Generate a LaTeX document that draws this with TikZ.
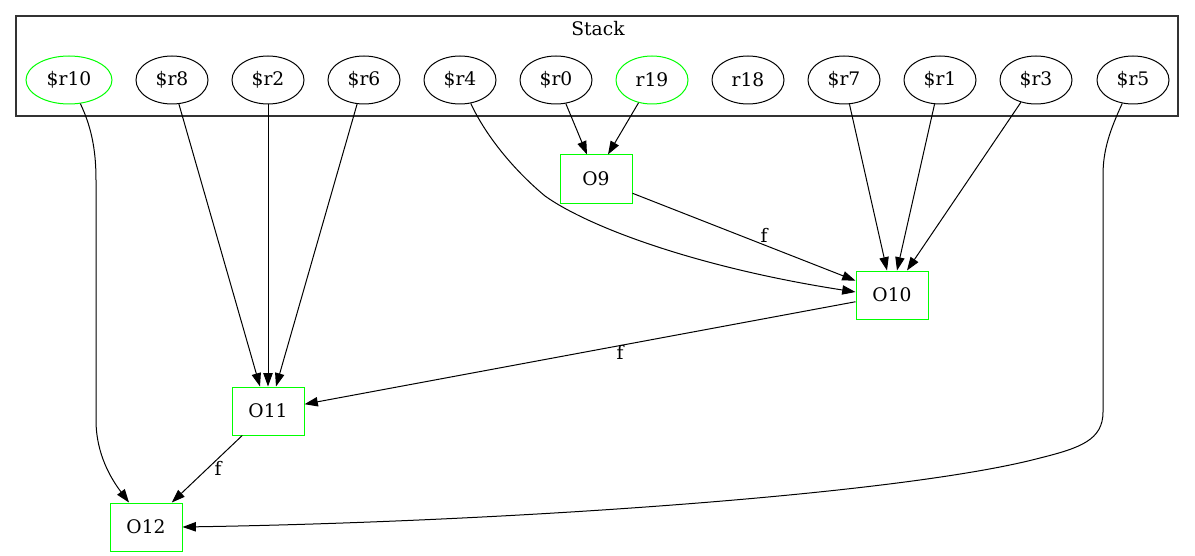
\documentclass[tikz,border=0pt]{standalone}
\usepackage{fontspec}
\setmainfont{DejaVu Serif}
\usetikzlibrary{arrows.meta,shapes.geometric,calc}
\definecolor{gvgreen}{RGB}{0,255,0}
\begin{document}
\begin{tikzpicture}[x=0.75pt,y=-0.75pt,
  font=\fontsize{14}{16}\selectfont,
  reg/.style={draw, ellipse, line width=0.75pt, minimum width=54pt,
    minimum height=36pt, inner sep=0pt},
  livereg/.style={reg, draw=gvgreen},
  op/.style={draw=gvgreen, rectangle, line width=0.75pt, minimum width=54pt,
    minimum height=36pt, inner sep=0pt},
  cluster/.style={draw=black!80, rectangle, line width=0.85pt, minimum width=871.5pt,
    minimum height=75pt, inner sep=0pt},
  edge/.style={line width=0.75pt, -{Triangle[length=10pt,width=7pt]}},
  lbl/.style={inner sep=0pt}
]
\useasboundingbox (0,0) rectangle (1195,556);

% register stack
\node[cluster] (stack) at (597,66) {};
\node[lbl] (stacklbl) at (598,29) {Stack};

\node[livereg, minimum width=64.5pt] (r10) at (69,80) {\$r10};
\node[reg] (r8)  at (172,80)  {\$r8};
\node[reg] (r2)  at (268,80)  {\$r2};
\node[reg] (r6)  at (364,80)  {\$r6};
\node[reg] (r4)  at (460,80)  {\$r4};
\node[reg] (r0)  at (556,80)  {\$r0};
\node[livereg] (r19) at (652,80) {r19};
\node[reg] (r18) at (748,80)  {r18};
\node[reg] (r7)  at (844,80)  {\$r7};
\node[reg] (r1)  at (940,80)  {\$r1};
\node[reg] (r3)  at (1036,80) {\$r3};
\node[reg] (r5)  at (1133,80) {\$r5};

% operations
\node[op] (O9)  at (596,179) {O9};
\node[op] (O10) at (892,295) {O10};
\node[op] (O11) at (268,411) {O11};
\node[op] (O12) at (146,527) {O12};

% operands
\draw[edge] (r0)  -- ($(O9.north)+(-9,0)$);
\draw[edge] (r19) -- ($(O9.north)+(12,0)$);

\draw[edge] (r7) -- ($(O10.north)+(-5,0)$);
\draw[edge] (r1) -- ($(O10.north)+(5,0)$);
\draw[edge] (r3) -- ($(O10.north)+(15,0)$);
\draw[edge] (r4) .. controls (483,130) and (508,165) .. (545,196)
                 .. controls (590,228) and (700,268) .. ($(O10.west)+(0,-3)$);

\draw[edge] (r8) -- ($(O11.north)+(-8,0)$);
\draw[edge] (r2) -- (O11.north);
\draw[edge] (r6) -- ($(O11.north)+(8,0)$);

\draw[edge] (r10) .. controls (93,130) and (96,155) .. (96,180) -- (96,420)
                  .. controls (96,455) and (112,480) .. ($(O12.north)+(-17,0)$);
\draw[edge] (r5) .. controls (1110,130) and (1103,150) .. (1103,175) -- (1103,412)
                 .. controls (1103,440) and (1080,448) .. (1040,458)
                 .. controls (900,495) and (500,522) .. (O12.east);

% chained results
\draw[edge] (O9)  -- (O10);
\draw[edge] (O10) -- (O11);
\draw[edge] (O11) -- (O12);
\node[lbl] (f1) at (764,235) {f};
\node[lbl] (f2) at (620,352) {f};
\node[lbl] (f3) at (218,468) {f};
\end{tikzpicture}
\end{document}
